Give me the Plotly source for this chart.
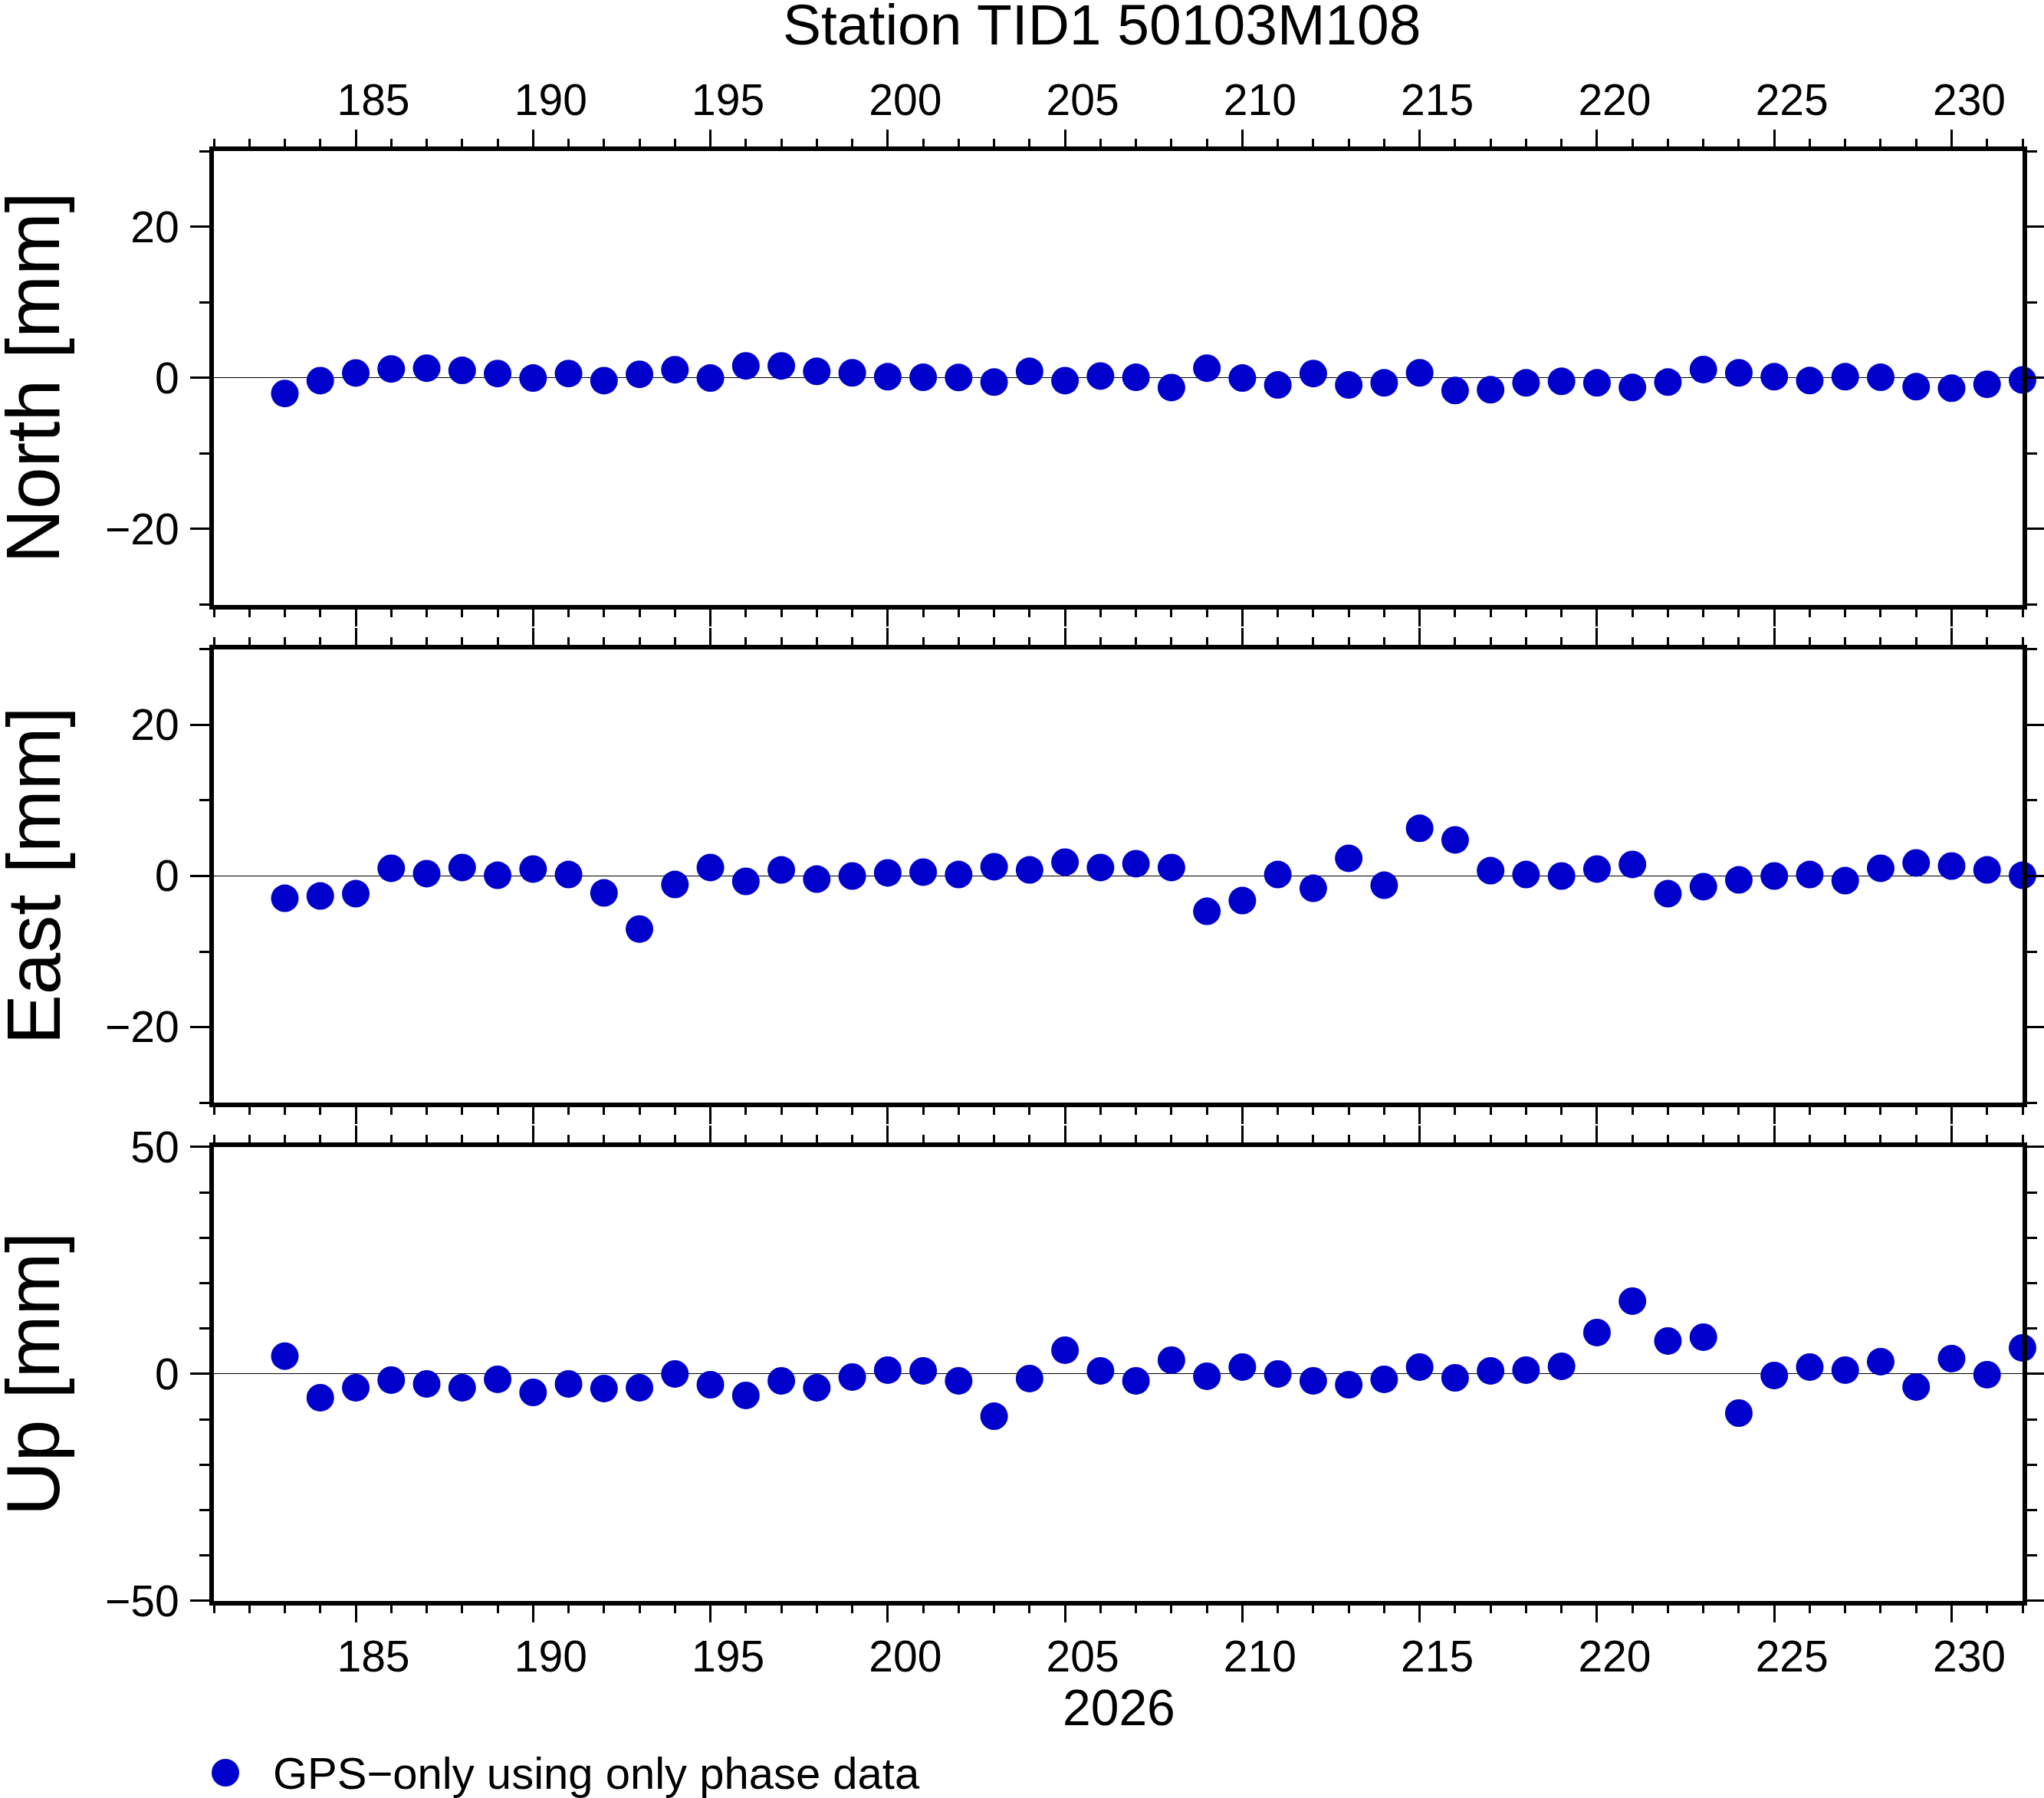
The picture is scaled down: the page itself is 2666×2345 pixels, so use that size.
import plotly.graph_objects as go

# day of year 2026, daily solutions
days = list(range(183, 233))

north = [-2.07, -0.37, 0.64, 1.17, 1.27, 0.98, 0.56, -0.03, 0.56, -0.37,
         0.46, 1.07, -0.03, 1.58, 1.58, 0.86, 0.66, 0.15, 0.07, 0.05,
         -0.56, 0.86, -0.37, 0.24, 0.07, -1.29, 1.27, -0.03, -0.95, 0.56,
         -0.95, -0.66, 0.66, -1.68, -1.58, -0.66, -0.46, -0.66, -1.27, -0.56,
         1.10, 0.66, 0.15, -0.36, 0.15, 0.07, -1.17, -1.37, -0.86, -0.29]

east = [-2.95, -2.64, -2.34, 1.02, 0.31, 1.12, 0.10, 0.92, 0.20, -2.24,
        -7.02, -1.12, 1.12, -0.71, 0.81, -0.41, 0.0, 0.41, 0.51, 0.20,
        1.22, 0.81, 1.83, 1.12, 1.63, 1.12, -4.68, -3.25, 0.20, -1.63,
        2.34, -1.22, 6.31, 4.78, 0.71, 0.20, 0.0, 0.92, 1.53, -2.34,
        -1.42, -0.51, 0.0, 0.20, -0.61, 1.02, 1.73, 1.32, 0.81, 0.10]

up = [3.94, -5.24, -3.04, -1.35, -2.20, -3.04, -1.18, -4.06, -2.20, -3.21,
      -3.04, 0.0, -2.37, -4.73, -1.52, -3.04, -0.68, 0.85, 0.68, -1.52,
      -9.30, -1.01, 5.24, 0.68, -1.52, 3.04, -0.51, 1.52, 0.0, -1.52,
      -2.37, -1.18, 1.52, -0.85, 0.68, 0.85, 1.69, 9.13, 16.06, 7.27,
      8.11, -8.62, -0.34, 1.52, 0.85, 2.70, -2.87, 3.38, -0.17, 5.75]

panels = ["North [mm]", "East [mm]", "Up [mm]"]
y_ranges = [[-30, 30], [-30, 30], [-50, 50]]
y_dticks = [20, 20, 50]
x_range = [181, 232]
year_label = "2026"
title = "Station TID1 50103M108"
legend_text = "GPS\u2212only using only phase data"

FONT = "Liberation Sans"
BLUE = "rgb(0,0,205)"
W, H = 2666, 2345
L, R, T, B = 279, 28, 197, 257
domains = [[0.6872, 1.0], [0.3437, 0.6563], [0.0, 0.3131]]


def px_x(p):
    return (p - L) / (W - L - R)


def px_y(p):
    return (H - B - p) / (H - T - B)


fig = go.Figure()
for i, vals in enumerate([north, east, up]):
    n = "" if i == 0 else str(i + 1)
    fig.add_trace(go.Scatter(
        x=days, y=vals, mode="markers",
        marker=dict(size=36, color=BLUE, line=dict(width=0)),
        cliponaxis=False, showlegend=False,
        xaxis="x" + n, yaxis="y" + n,
    ))

layout = dict(
    width=W, height=H, autosize=False,
    margin=dict(l=L, r=R, t=T, b=B, pad=0),
    paper_bgcolor="white", plot_bgcolor="white",
    font=dict(family=FONT, color="black"),
    showlegend=False,
)

for i in range(3):
    n = "" if i == 0 else str(i + 1)
    layout["xaxis" + n] = dict(
        range=x_range, anchor="y" + n, matches=None if i == 0 else "x",
        side="top" if i == 0 else "bottom",
        showticklabels=(i != 1), automargin=False,
        tick0=185, dtick=5, ticks="outside", ticklen=22, tickwidth=3,
        tickcolor="black", ticklabelshift=23, ticklabelstandoff=-4,
        tickfont=dict(size=57, family=FONT, color="black"),
        showline=True, linewidth=6, linecolor="black", mirror="ticks",
        showgrid=False, zeroline=False,
        minor=dict(tick0=181, dtick=1, ticks="outside", ticklen=10,
                   tickwidth=3, tickcolor="black", showgrid=False),
    )
    layout["yaxis" + n] = dict(
        range=y_ranges[i], domain=domains[i], anchor="x" + n,
        automargin=False,
        tick0=0, dtick=y_dticks[i], ticks="outside", ticklen=25, tickwidth=3,
        tickcolor="black", ticklabelstandoff=3,
        tickfont=dict(size=57, family=FONT, color="black"),
        showline=True, linewidth=6, linecolor="black", mirror="ticks",
        showgrid=False, zeroline=True, zerolinecolor="black", zerolinewidth=1,
        minor=dict(tick0=0, dtick=10, ticks="outside", ticklen=13,
                   tickwidth=3, tickcolor="black", showgrid=False),
    )

fig.update_layout(**layout)

ann = [
    dict(text=title, x=px_x(1437), y=px_y(32), font=dict(size=75)),
    dict(text=year_label, x=px_x(1459), y=px_y(2227), font=dict(size=66)),
    dict(text=legend_text, x=px_x(354), y=px_y(2312), xanchor="left",
         font=dict(size=58)),
]
for i, lab in enumerate(panels):
    ann.append(dict(text=lab, x=px_x(43), y=sum(domains[i]) / 2,
                    textangle=-90, font=dict(size=98)))
for a in ann:
    a.setdefault("xanchor", "center")
    a.update(xref="paper", yref="paper", yanchor="middle", showarrow=False)
    a["font"].update(family=FONT, color="black")
fig.update_layout(annotations=ann)

# legend swatch
fig.add_shape(type="circle", xref="paper", yref="paper",
              xsizemode="pixel", ysizemode="pixel",
              xanchor=px_x(294), yanchor=px_y(2312),
              x0=-18, x1=18, y0=-18, y1=18,
              fillcolor=BLUE, line=dict(width=0))

fig.write_html("out.html", config={"displayModeBar": False},
               post_script="document.body.style.margin='0';")
